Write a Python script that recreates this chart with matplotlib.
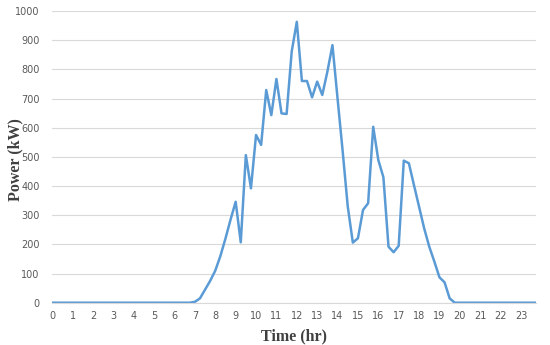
import numpy as np
import matplotlib
matplotlib.use("Agg")
import matplotlib.pyplot as plt

# 15-minute samples over one day (96 points)
night_am = [0] * 28          # 00:00 - 06:45
day = [3, 15, 45, 75, 110, 160, 220, 285,          # 07:00 - 08:45
       346, 207, 506, 392, 575, 541, 729, 643,     # 09:00 - 10:45
       767, 649, 647, 861, 963, 760, 760, 704,     # 11:00 - 12:45
       758, 712, 792, 883, 700, 520, 330, 206,     # 13:00 - 14:45
       221, 318, 341, 603, 489, 430, 192, 173,     # 15:00 - 16:45
       195, 487, 478, 403, 329, 255, 192, 141,     # 17:00 - 18:45
       87, 70, 15, 0]                              # 19:00 - 19:45
night_pm = [0] * 16          # 20:00 - 23:45
power = night_am + day + night_pm
hours = np.arange(len(power)) / 4.0
hour_labels = [str(h) for h in range(24)]

fig = plt.figure(figsize=(5.5, 3.45), dpi=100)
ax = fig.add_axes([0.095, 0.1226, 0.88, 0.8455])

ax.plot(hours, power, color='#5B9BD5', lw=1.8, solid_joinstyle='round')

ax.set_xlim(0, hours[-1])
ax.set_ylim(0, 1000)
ax.set_yticks(np.arange(0, 1001, 100))
ax.set_xticks(range(24))
ax.set_xticklabels(hour_labels)

ax.grid(axis='y', color='#d9d9d9', lw=0.8)
ax.set_axisbelow(True)
for s in ['top', 'right', 'left']:
    ax.spines[s].set_visible(False)
ax.spines['bottom'].set_color('#d9d9d9')
ax.spines['bottom'].set_linewidth(0.8)
ax.tick_params(length=0, labelsize=7, labelcolor='#595959')
ax.tick_params(axis='y', pad=9)
ax.tick_params(axis='x', pad=6)

ax.set_xlabel('Time (hr)', fontfamily='Liberation Serif', fontweight='bold',
              fontsize=11.5, color='#404040', labelpad=5)
# y label placed by hand, the tick labels leave little room
fig.text(15 / 550, 1 - 160 / 345, 'Power (kW)', rotation=90,
         ha='center', va='center', fontfamily='Liberation Serif',
         fontweight='bold', fontsize=11.5, color='#404040')

fig.savefig('out.png', dpi=100)
